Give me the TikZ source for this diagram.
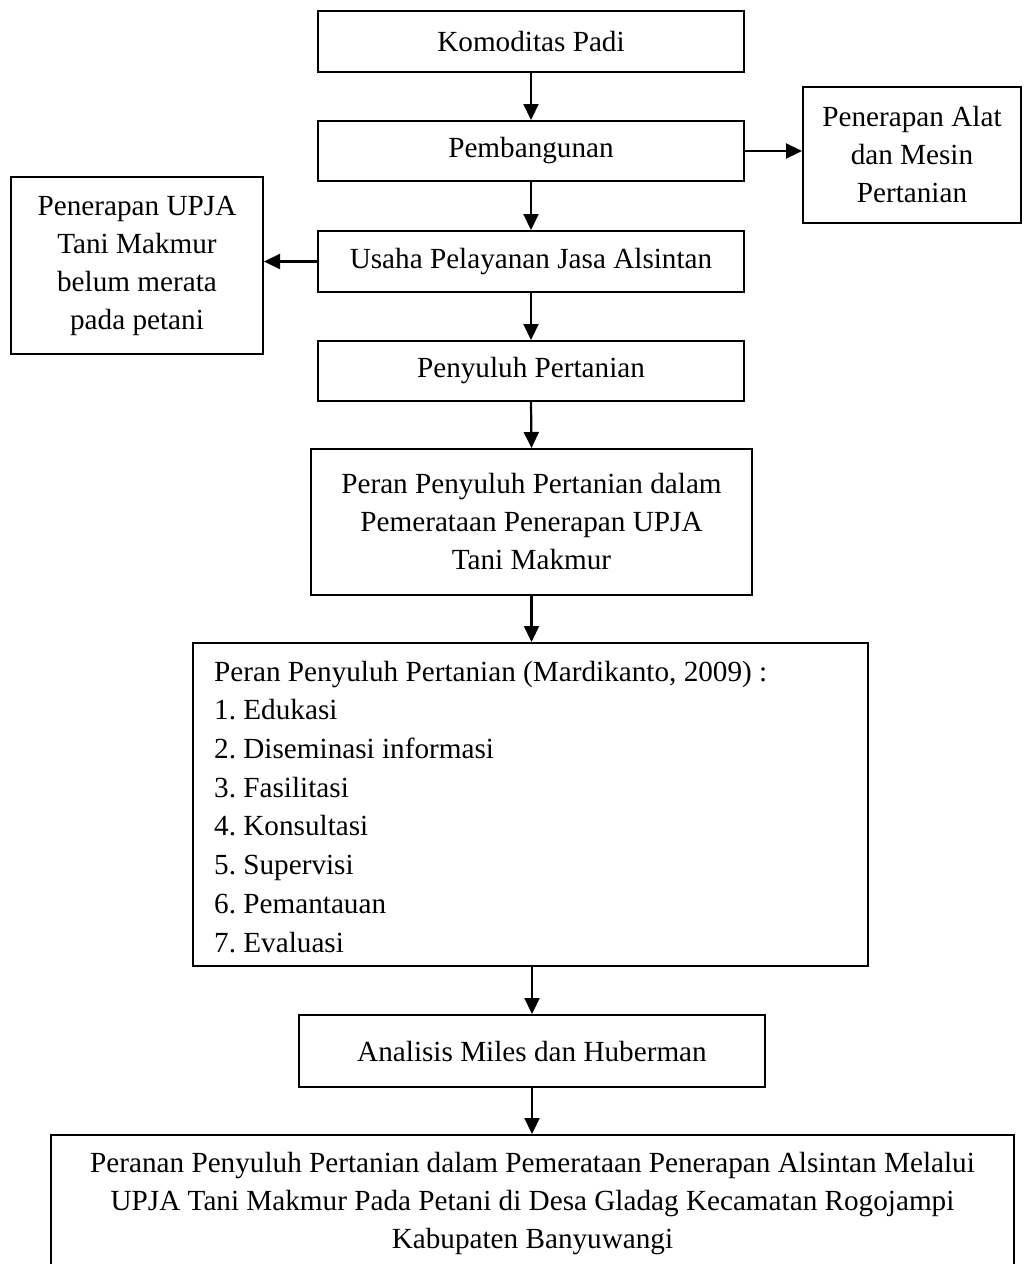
\documentclass[tikz,border=0pt]{standalone}
\usepackage{fontspec}
\setmainfont{Liberation Serif}
\usetikzlibrary{arrows.meta}
\frenchspacing

\begin{document}
\begin{tikzpicture}[x=1pt, y=-1pt,
  box/.style={draw, line width=2pt, inner sep=0pt, align=center,
    font=\fontsize{29.2}{38}\selectfont},
  flow/.style={line width=2.2pt, -{Triangle[length=16pt, width=15pt]}},
  listtext/.style={inner sep=0pt, align=left, anchor=base west,
    font=\fontsize{29.2}{38.7}\selectfont}
]
\useasboundingbox (0,0) rectangle (1025,1264);
\clip (0,0) rectangle (1025,1264);

% main column
\node[box, minimum width=426pt, minimum height=61pt] (kom) at (531,41.5) {Komoditas Padi};
\node[box, minimum width=426pt, minimum height=60pt] (pem) at (531,151) {Pembangunan};
\node[box, minimum width=426pt, minimum height=61pt] (usaha) at (531,261.5) {Usaha Pelayanan Jasa Alsintan};
\node[box, minimum width=426pt, minimum height=60pt] (peny) at (531,371) {Penyuluh Pertanian};
\node[box, minimum width=441pt, minimum height=146pt] (peran) at (531.5,522)
  {Peran Penyuluh Pertanian dalam\\Pemerataan Penerapan UPJA\\Tani Makmur};
\node[box, minimum width=675pt, minimum height=323pt] (list) at (530.5,804.5) {};
% list of roles; the anchor sits on the baseline of the last line
\node[listtext] (listtxt) at (214,952)
  {Peran Penyuluh Pertanian (Mardikanto, 2009) :\\
   1. Edukasi\\
   2. Diseminasi informasi\\
   3. Fasilitasi\\
   4. Konsultasi\\
   5. Supervisi\\
   6. Pemantauan\\
   7. Evaluasi};
\node[box, minimum width=466pt, minimum height=72pt] (anal) at (532,1051) {Analisis Miles dan Huberman};
\node[box, minimum width=963pt, minimum height=137pt] (hasil) at (532.5,1203.5)
  {Peranan Penyuluh Pertanian dalam Pemerataan Penerapan Alsintan Melalui\\
   UPJA Tani Makmur Pada Petani di Desa Gladag Kecamatan Rogojampi\\
   Kabupaten Banyuwangi};

% side boxes
\node[box, minimum width=218pt, minimum height=136pt] (alat) at (912,155)
  {Penerapan Alat\\dan Mesin\\Pertanian};
\node[box, minimum width=252pt, minimum height=177pt] (upja) at (137,265.5)
  {Penerapan UPJA\\Tani Makmur\\belum merata\\pada petani};

% connectors
\draw[flow] (kom.south) -- (pem.north);
\draw[flow] (pem.east) -- (alat.west |- pem.east);
\draw[flow] (pem.south) -- (usaha.north);
\draw[flow] (usaha.west) -- (upja.east |- usaha.west);
\draw[flow] (usaha.south) -- (peny.north);
\draw[flow] (peny.south) -- (peran.north);
\draw[flow] (peran.south) -- (peran.south |- list.north);
\draw[flow] (anal.north |- list.south) -- (anal.north);
\draw[flow] (anal.south) -- (hasil.north -| anal.south);
\end{tikzpicture}
\end{document}
